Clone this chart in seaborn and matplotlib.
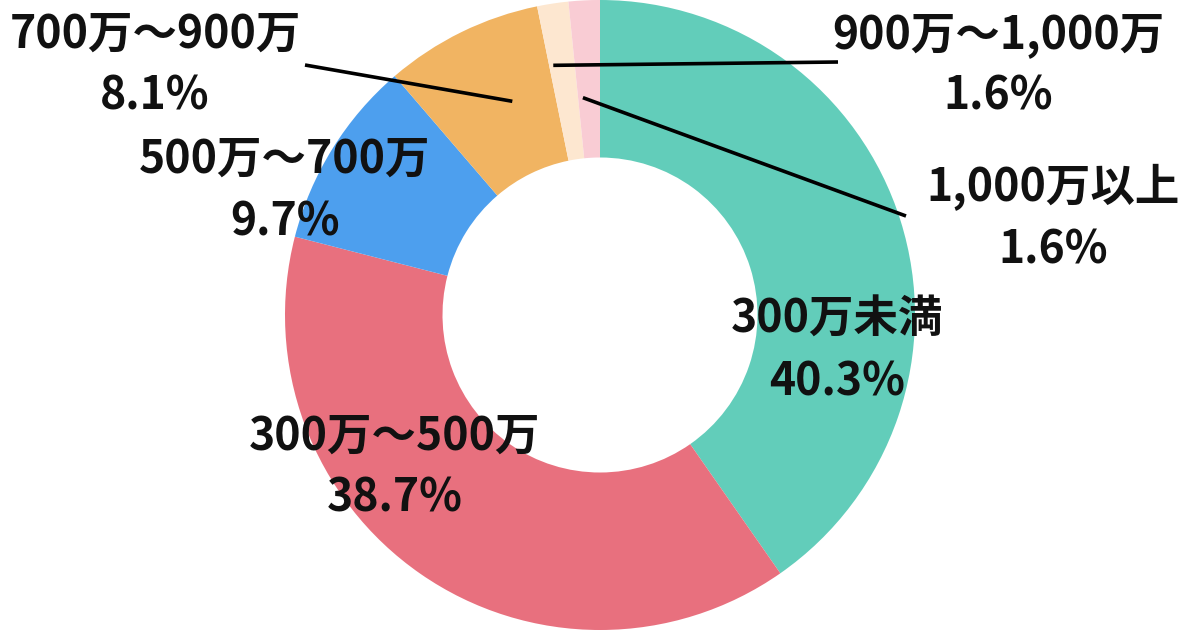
import numpy as np
import matplotlib
matplotlib.use("Agg")
import matplotlib.pyplot as plt
import seaborn as sns

# ── data ──
categories = ["300万未満", "300万～500万", "500万～700万", "700万～900万",
              "900万～1,000万", "1,000万以上"]
shares = [40.3, 38.7, 9.7, 8.1, 1.6, 1.6]
colors = ["#62CDBA", "#E8707E", "#4D9FEE", "#F1B462", "#FDE7D0", "#F9CCD4"]

# label centres (pixel space, y from top)
label_pos = [(837, 320), (395, 437), (285, 160), (155, 35), (998, 35), (1053, 188)]
# leader lines: end point, radius and position within the wedge (0..1, clockwise)
line_end = [None, None, None, (305, 65), (838, 62), (906, 216)]
line_r = [None, None, None, 231, 254, 218]
line_f = [None, None, None, 0.63, 0.16, 0.22]

sns.set_theme(style="white")
plt.rcParams["font.family"] = ["Noto Sans CJK JP", "DejaVu Sans"]

W, H = 1200, 630
fig = plt.figure(figsize=(12, 6.3), dpi=100)
ax = fig.add_axes([0, 0, 1, 1])

cx, cy, R = 600, 315, 315
wedges, _ = ax.pie(shares, colors=sns.color_palette(colors), startangle=90,
                   counterclock=False, center=(cx, cy), radius=R,
                   wedgeprops=dict(width=R * 0.5, linewidth=0))
ax.set_xlim(0, W)
ax.set_ylim(0, H)
ax.set_aspect("equal")
ax.axis("off")

cum = np.concatenate([[0], np.cumsum(shares)[:-1]])
for i, (cat, val) in enumerate(zip(categories, shares)):
    px, py = label_pos[i]
    if line_end[i] is not None:
        frac = (cum[i] + line_f[i] * val) / sum(shares)
        ang = np.deg2rad(90 - 360 * frac)
        x0, y0 = cx + line_r[i] * np.cos(ang), cy + line_r[i] * np.sin(ang)
        ax.plot([x0, line_end[i][0]], [y0, H - line_end[i][1]], color="black",
                lw=2.6, solid_capstyle="butt", zorder=3)
    ax.text(px, H - py, cat, ha="center", va="center",
            fontsize=32, fontweight="bold", color="#111111", zorder=4)
    ax.text(px, H - py - 62, f"{val:.1f}%", ha="center", va="center",
            fontsize=32, fontweight="bold", color="#111111", zorder=4)

fig.savefig("out.png", dpi=100, facecolor="white")
